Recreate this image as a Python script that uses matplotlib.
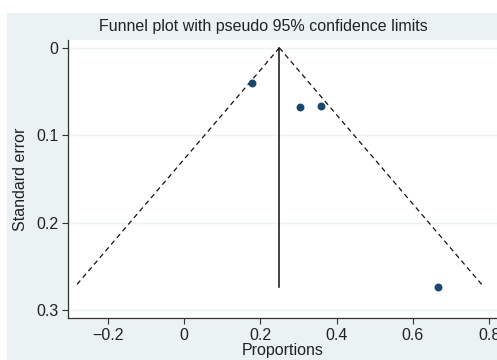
import numpy as np
import matplotlib
matplotlib.use("Agg")
import matplotlib.pyplot as plt
from matplotlib.patches import Rectangle

plt.rcParams['font.family'] = ['Liberation Sans', 'DejaVu Sans']

# study estimates
proportions = [0.178, 0.304, 0.359, 0.666]
std_errors = [0.040, 0.068, 0.066, 0.273]
pooled = 0.25
se_max = 0.273
x_ticks = [-0.2, 0, 0.2, 0.4, 0.6, 0.8]
x_labels = ['\u22120.2', '0', '0.2', '0.4', '0.6', '0.8']
y_ticks = [0, 0.1, 0.2, 0.3]
y_labels = ['0', '0.1', '0.2', '0.3']

W, H = 497, 360
fig = plt.figure(figsize=(W / 100, H / 100), dpi=100)
fig.patch.set_facecolor('white')
fig.patches.append(Rectangle((7 / W, 0), 1, 1 - 13 / H, transform=fig.transFigure,
                             facecolor='#eaf2f3', edgecolor='none', zorder=-10))

ax = fig.add_axes([68 / W, (H - 318) / H, (W - 68) / W, (318 - 40) / H])
ax.set_facecolor('white')

# pseudo 95% limits
se = np.array([0, se_max])
ax.plot(pooled - 1.96 * se, se, ls=(0, (4, 3)), color='#111111', lw=0.9)
ax.plot(pooled + 1.96 * se, se, ls=(0, (4, 3)), color='#111111', lw=0.9)
ax.plot([pooled, pooled], [0, se_max], color='#111111', lw=1.1)

ax.scatter(proportions, std_errors, s=22, color='#1a476f', zorder=3)

ax.set_xlim(-0.304, 0.8205)
ax.set_ylim(0.309, -0.009)
ax.set_xticks(x_ticks)
ax.set_xticklabels(x_labels)
ax.set_yticks(y_ticks)
ax.set_yticklabels(y_labels)
ax.grid(axis='y', color='#eaf2f3', lw=1)
ax.set_axisbelow(True)
for s in ['top', 'right']:
    ax.spines[s].set_visible(False)
for s in ['left', 'bottom']:
    ax.spines[s].set_color('#333333')
    ax.spines[s].set_linewidth(0.9)
ax.tick_params(direction='out', length=4, width=0.8, color='#333333',
               labelsize=11.5, labelcolor='#222222', pad=3)

ax.set_xlabel('Proportions', fontsize=11.5, color='#222222', labelpad=0)
ax.set_ylabel('Standard error', fontsize=11.5, color='#222222', labelpad=6)
fig.text(263 / W, 1 - 27 / H, 'Funnel plot with pseudo 95% confidence limits',
         ha='center', va='center', fontsize=11.5, color='#222222')

fig.savefig('out.png', dpi=100)
